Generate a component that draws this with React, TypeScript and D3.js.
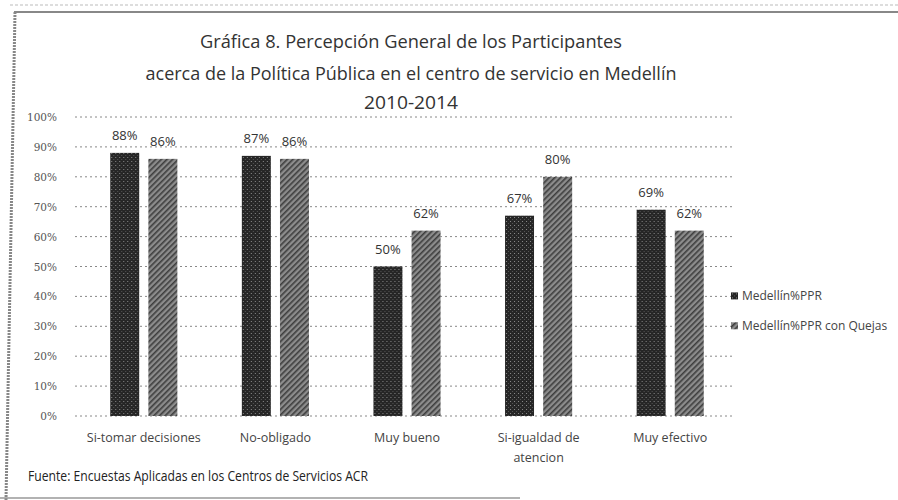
import React from "react";
import * as d3 from "d3";

const categories = [
  ["Si-tomar decisiones"],
  ["No-obligado"],
  ["Muy bueno"],
  ["Si-igualdad de", "atencion"],
  ["Muy efectivo"],
];
const seriesNames = ["Medellín%PPR", "Medellín%PPR con Quejas"];
const seriesPPR = [88, 87, 50, 67, 69];
const seriesQuejas = [86, 86, 62, 80, 62];
const yTicks = [0, 10, 20, 30, 40, 50, 60, 70, 80, 90, 100];
const titleLines = [
  "Gráfica 8. Percepción General de los Participantes",
  "acerca de la Política Pública en el centro de servicio en Medellín",
  "2010-2014",
];
const footer = "Fuente: Encuestas  Aplicadas en los Centros de Servicios ACR";

const W = 898;
const H = 500;

export default function App() {
  const catKeys = categories.map((c) => c.join(" "));
  const x = d3.scaleBand<string>().domain(catKeys).range([78, 736]).paddingInner(0.49).paddingOuter(0.245);
  const xs = d3.scaleBand<string>().domain(seriesNames).range([0, x.bandwidth()]).paddingInner(0.24);
  const y = d3.scaleLinear().domain([0, 100]).range([416, 117]);
  const series = [seriesPPR, seriesQuejas];
  const fills = ["url(#patDark)", "url(#patLight)"];
  const titleWidths = [422, 531, 94];
  const titleY = [48, 80, 109];

  return (
    <svg width={W} height={H} style={{ display: "block", position: "absolute", left: 0, top: 0, background: "#fff" }}>
      <defs>
        <pattern id="patDark" width="4" height="4" patternUnits="userSpaceOnUse">
          <rect width="4" height="4" fill="#262626" />
          <rect x="1" y="1" width="1" height="1" fill="#8a8a8a" />
          <rect x="3" y="3" width="1" height="1" fill="#555" />
        </pattern>
        <pattern id="patLight" width="4" height="4" patternUnits="userSpaceOnUse" patternTransform="rotate(45)">
          <rect width="4" height="4" fill="#8c8c8c" />
          <rect width="1.6" height="4" fill="#3e3e3e" />
        </pattern>
      </defs>
      <rect x={0} y={0} width={W} height={H} fill="#fff" />
      {/* frame */}
      <line x1={10} y1={5} x2={W} y2={5} stroke="#bbb" strokeWidth={1} strokeDasharray="3 2" />
      <line x1={14} y1={12} x2={W} y2={12} stroke="#888" strokeWidth={2} />
      <line x1={15} y1={12} x2={6} y2={H} stroke="#888" strokeWidth={3} strokeDasharray="2 1" />
      <line x1={0} y1={498} x2={520} y2={498} stroke="#999" strokeWidth={1.5} />

      {/* title */}
      {titleLines.map((t, i) => (
        <text
          key={i}
          x={411}
          y={titleY[i]}
          textAnchor="middle"
          fontFamily="'Open Sans', 'Noto Sans', sans-serif"
          fontSize={19}
          fill="#333"
          textLength={titleWidths[i]}
          lengthAdjust="spacingAndGlyphs"
        >
          {t}
        </text>
      ))}

      {/* gridlines */}
      {yTicks.map((t) => (
        <g key={t}>
          <line x1={75} x2={733} y1={y(t)} y2={y(t)} stroke="#888" strokeWidth={1} strokeDasharray="2 3" />
          <text x={57} y={y(t) + 4} textAnchor="end" fontFamily="'DejaVu Serif', serif" fontSize={10.5} fill="#555">
            {t + "%"}
          </text>
        </g>
      ))}

      {/* bars */}
      {catKeys.map((c, ci) => (
        <g key={c} transform={`translate(${x(c)},0)`}>
          {seriesNames.map((s, si) => {
            const v = series[si][ci];
            const bx = xs(s) as number;
            return (
              <g key={s}>
                <rect x={bx} y={y(v)} width={xs.bandwidth()} height={y(0) - y(v)} fill={fills[si]} />
                <text
                  x={bx + xs.bandwidth() / 2}
                  y={y(v) - 13}
                  textAnchor="middle"
                  fontFamily="'Open Sans', sans-serif"
                  fontSize={13}
                  fill="#333"
                >
                  {v + "%"}
                </text>
              </g>
            );
          })}
          {categories[ci].map((line, li) => (
            <text
              key={li}
              x={x.bandwidth() / 2}
              y={442 + li * 20}
              textAnchor="middle"
              fontFamily="'Open Sans', sans-serif"
              fontSize={12.5}
              fill="#444"
            >
              {line}
            </text>
          ))}
        </g>
      ))}

      {/* legend */}
      {seriesNames.map((s, i) => (
        <g key={s} transform={`translate(731,${y(40 - i * 10)})`}>
          <rect x={0} y={-4} width={7} height={7} fill={fills[i]} />
          <text x={11} y={4} fontFamily="'Open Sans', sans-serif" fontSize={12} fill="#444">
            {s}
          </text>
        </g>
      ))}

      {/* footer */}
      <text x={28} y={481} fontFamily="'Open Sans', sans-serif" fontSize={14} fill="#222" textLength={340} lengthAdjust="spacingAndGlyphs">
        {footer}
      </text>
    </svg>
  );
}
